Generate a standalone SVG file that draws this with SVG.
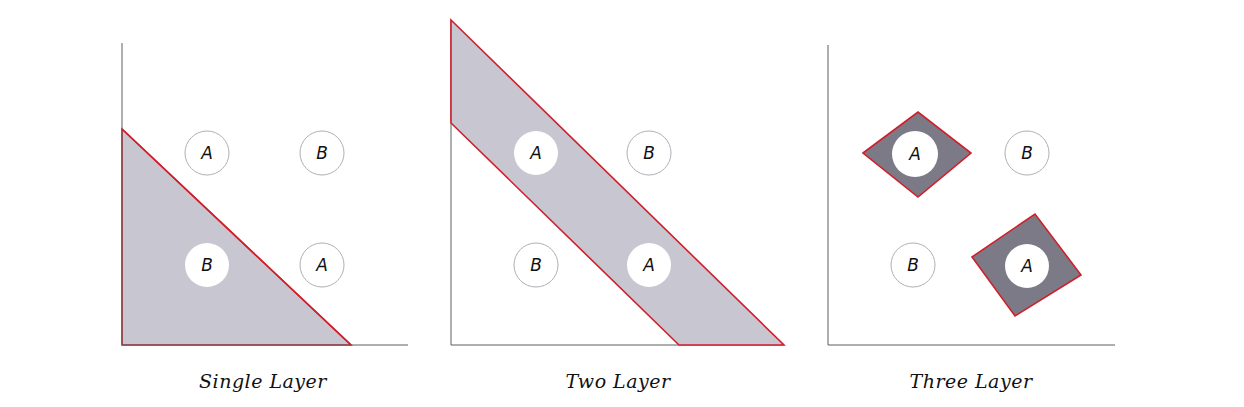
<svg xmlns="http://www.w3.org/2000/svg" width="1244" height="407" viewBox="0 0 1244 407">
<style>
.axis{stroke:#5f5f5f;stroke-width:1;fill:none}
.light{fill:#c8c6d0;stroke:#d01f2b;stroke-width:1.6;stroke-linejoin:miter}
.dark{fill:#7c7a87;stroke:#d01f2b;stroke-width:1.6}
.c{fill:#ffffff;stroke:#b0afb8;stroke-width:1}
.cw{fill:#ffffff;stroke:none}
.t{font-family:"DejaVu Sans","Liberation Sans",sans-serif;font-style:italic;font-size:17px;fill:#111;text-anchor:middle}
.lbl{font-family:"DejaVu Serif","Liberation Serif",serif;font-style:italic;font-size:19px;fill:#111;text-anchor:middle;letter-spacing:0.5px}
</style>
<rect width="1244" height="407" fill="#ffffff"/>
<g id="panel1">
  <polygon class="light" points="122,129 351,345 122,345"/>
  <path class="axis" d="M122,43 V345 H408"/>
  <line x1="122" y1="129" x2="351" y2="345" stroke="#d01f2b" stroke-width="1.6"/>
  <g id="p1-a1"><circle class="c" cx="207" cy="153" r="22"/><text class="t" x="207" y="159">A</text></g>
  <g id="p1-b1"><circle class="c" cx="322" cy="153" r="22"/><text class="t" x="322" y="159">B</text></g>
  <g id="p1-b2"><circle class="cw" cx="207" cy="265" r="22"/><text class="t" x="207" y="271">B</text></g>
  <g id="p1-a2"><circle class="c" cx="322" cy="265" r="22"/><text class="t" x="322" y="271">A</text></g>
  <text class="lbl" x="263" y="388">Single Layer</text>
</g>
<g id="panel2">
  <path class="axis" d="M451,20 V345 H783"/>
  <polygon class="light" points="451,20 784,345 679,345 451,123"/>
  <g id="p2-a1"><circle class="cw" cx="536" cy="153" r="22"/><text class="t" x="536" y="159">A</text></g>
  <g id="p2-b1"><circle class="c" cx="649" cy="153" r="22"/><text class="t" x="649" y="159">B</text></g>
  <g id="p2-b2"><circle class="c" cx="536" cy="265" r="22"/><text class="t" x="536" y="271">B</text></g>
  <g id="p2-a2"><circle class="cw" cx="649" cy="265" r="22"/><text class="t" x="649" y="271">A</text></g>
  <text class="lbl" x="618" y="388">Two Layer</text>
</g>
<g id="panel3">
  <path class="axis" d="M828,45 V345 H1115"/>
  <polygon class="dark" points="863,153 918,112 971,153 918,197"/>
  <polygon class="dark" points="972,257 1035,214 1081,275 1015,316"/>
  <g id="p3-a1"><circle class="cw" cx="915" cy="154" r="23"/><text class="t" x="915" y="160">A</text></g>
  <g id="p3-b1"><circle class="c" cx="1027" cy="153" r="22"/><text class="t" x="1027" y="159">B</text></g>
  <g id="p3-b2"><circle class="c" cx="913" cy="265" r="22"/><text class="t" x="913" y="271">B</text></g>
  <g id="p3-a2"><circle class="cw" cx="1027" cy="266" r="22"/><text class="t" x="1027" y="272">A</text></g>
  <text class="lbl" x="971" y="388">Three Layer</text>
</g>
<g id="connectors"/>
</svg>
